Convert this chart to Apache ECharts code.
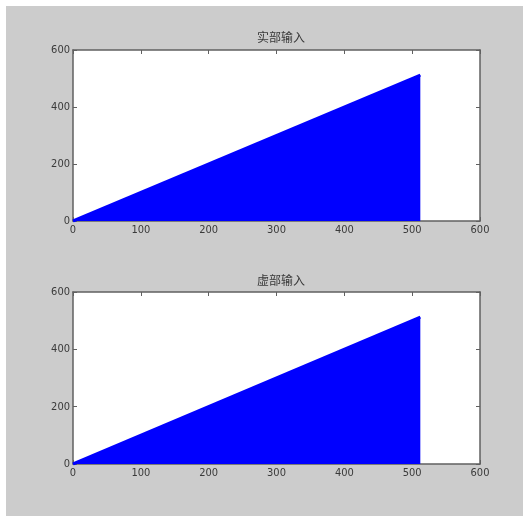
<!DOCTYPE html>
<html>
<head>
<meta charset="utf-8">
<script src="https://cdn.jsdelivr.net/npm/echarts@6/dist/echarts.min.js"></script>
<style>
html,body{margin:0;padding:0;background:#ffffff;}
#c{width:523px;height:516px;}
</style>
</head>
<body>
<div id="c"></div>
<script>
// Data
const titles = ['实部输入', '虚部输入'];
const realX = [0, 512];
const realY = [0, 512];
const imagX = [0, 512];
const imagY = [0, 512];
const xTicks = [0, 100, 200, 300, 400, 500, 600];
const yTicks = [0, 200, 400, 600];

const chart = echarts.init(document.getElementById('c'), null, {renderer: 'canvas'});
const txt = '#3a3a3a';
const frame = '#606060';
const font = 'Liberation Sans Narrow, DejaVu Sans Condensed, Arial, sans-serif';

const grids = [
  {left: 73, top: 50, width: 407, height: 171},
  {left: 73, top: 292, width: 407, height: 172}
];

function pair(a, b) { return a.map((v, i) => [v, b[i]]); }

const xAxes = [], yAxes = [];
grids.forEach((g, i) => {
  const base = {
    gridIndex: i, type: 'value', min: xTicks[0], max: xTicks[xTicks.length - 1], interval: 100,
    splitLine: {show: false},
    axisLine: {show: true, onZero: false, lineStyle: {color: frame, width: 1.5}},
    axisTick: {show: true, inside: true, length: 4, lineStyle: {color: frame}}
  };
  xAxes.push(Object.assign({}, base, {
    position: 'bottom',
    axisLabel: {show: true, color: txt, fontSize: 11, fontFamily: font, margin: 4}
  }));
  xAxes.push(Object.assign({}, base, {position: 'top', axisLabel: {show: false}}));
  const ybase = {
    gridIndex: i, type: 'value', min: yTicks[0], max: yTicks[yTicks.length - 1], interval: 200,
    splitLine: {show: false},
    axisLine: {show: true, onZero: false, lineStyle: {color: frame, width: 1.5}},
    axisTick: {show: true, inside: true, length: 4, lineStyle: {color: frame}}
  };
  yAxes.push(Object.assign({}, ybase, {
    position: 'left',
    axisLabel: {show: true, color: txt, fontSize: 11, fontFamily: font, margin: 3}
  }));
  yAxes.push(Object.assign({}, ybase, {position: 'right', axisLabel: {show: false}}));
});

const seriesData = [pair(realX, realY), pair(imagX, imagY)];
const series = seriesData.map((d, i) => ({
  type: 'line',
  xAxisIndex: i * 2,
  yAxisIndex: i * 2,
  data: d,
  showSymbol: false,
  silent: true,
  lineStyle: {color: '#0000ff', width: 3},
  areaStyle: {color: '#0000ff', opacity: 1},
  z: 2
}));

chart.setOption({
  animation: false,
  backgroundColor: '#ffffff',
  graphic: [{
    type: 'rect', z: -10, silent: true,
    shape: {x: 6, y: 6, width: 517, height: 510},
    style: {fill: '#cccccc'}
  }],
  title: titles.map((t, i) => ({
    text: t,
    left: 276, top: i === 0 ? 26 : 269,
    textAlign: 'center',
    textStyle: {fontSize: 12, fontWeight: 'normal', color: txt, fontFamily: 'Noto Sans CJK SC, sans-serif'}
  })),
  grid: grids.map(g => Object.assign({show: true, backgroundColor: '#ffffff', borderWidth: 0, containLabel: false}, g)),
  xAxis: xAxes,
  yAxis: yAxes,
  series: series
});
</script>
</body>
</html>
